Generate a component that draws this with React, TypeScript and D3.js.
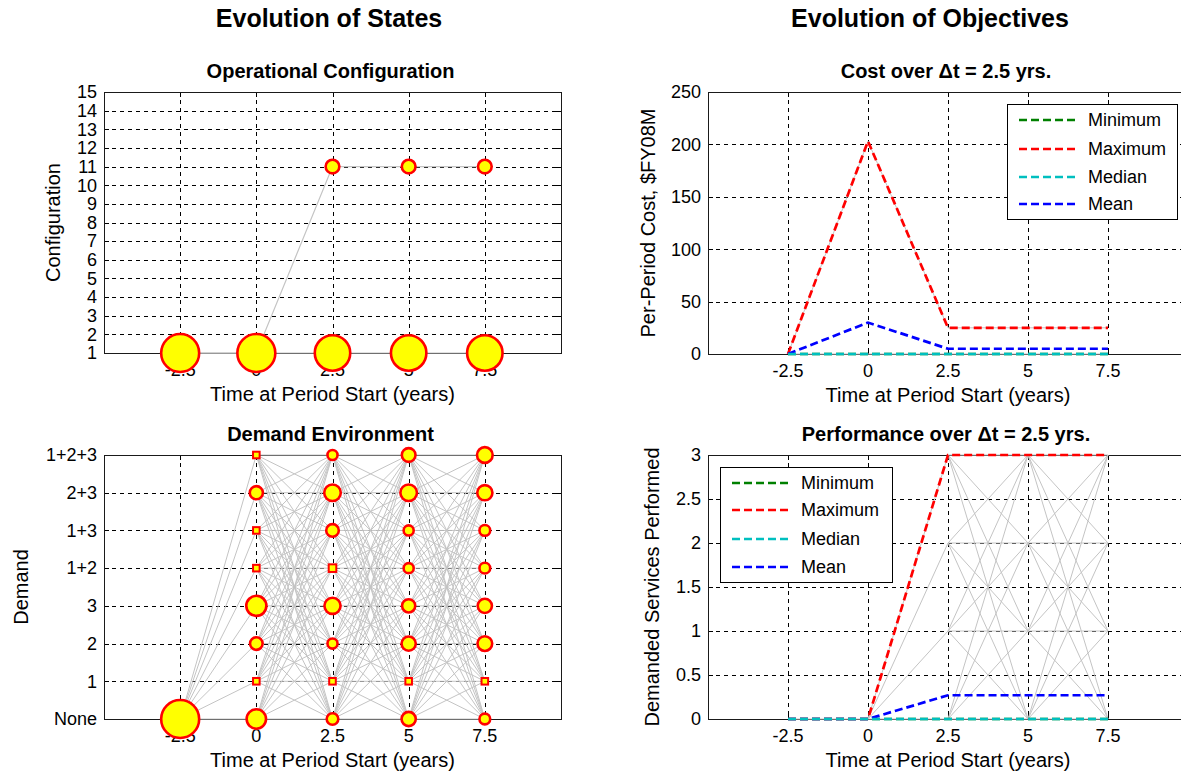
import React from "react";
import * as d3 from "d3";

const W = 1181;
const H = 774;
const FONT = "'Liberation Sans', Arial, Helvetica, sans-serif";

// ---------- data ----------
const times = [-2.5, 0, 2.5, 5, 7.5];
const xTickValues = [-2.5, 0, 2.5, 5, 7.5];
const xTickLabels = ["-2.5", "0", "2.5", "5", "7.5"];

const configTicks = [1, 2, 3, 4, 5, 6, 7, 8, 9, 10, 11, 12, 13, 14, 15];
const configStates = [1, 11];
// probability of each configuration at each time
const configProb = [
  [1, 1, 0.87, 0.87, 0.87],
  [0, 0, 0.13, 0.13, 0.13],
];
const configPaths = [
  [1, 1, 1, 1, 1],
  [1, 1, 11, 11, 11],
];

const demandLabels = ["None", "1", "2", "3", "1+2", "1+3", "2+3", "1+2+3"];
// probability of each demand state (None..1+2+3) at each time
const demandProb = [
  [1, 0, 0, 0, 0, 0, 0, 0],
  [0.26, 0.03, 0.11, 0.28, 0.03, 0.03, 0.12, 0.03],
  [0.093, 0.03, 0.07, 0.18, 0.04, 0.11, 0.19, 0.07],
  [0.14, 0.03, 0.14, 0.12, 0.07, 0.07, 0.19, 0.13],
  [0.08, 0.03, 0.15, 0.14, 0.08, 0.08, 0.16, 0.17],
];

const seriesNames = ["Minimum", "Maximum", "Median", "Mean"];
const costTicks = [0, 50, 100, 150, 200, 250];
const costMin = [0, 0, 0, 0, 0];
const costMax = [0, 203, 25, 25, 25];
const costMedian = [0, 0, 0, 0, 0];
const costMean = [0, 30, 5, 5, 5];
const costPaths = [
  [0, 203, 25, 25, 25],
  [0, 0, 0, 0, 0],
];

const perfTicks = [0, 0.5, 1, 1.5, 2, 2.5, 3];
const perfTickLabels = ["0", "0.5", "1", "1.5", "2", "2.5", "3"];
const perfMin = [0, 0, 0, 0, 0];
const perfMax = [0, 0, 3, 3, 3];
const perfMedian = [0, 0, 0, 0, 0];
const perfMean = [0, 0, 0.27, 0.27, 0.27];
const perfLevels = [[0], [0], [0, 1, 2, 3], [0, 1, 2, 3], [0, 1, 2, 3]];

// ---------- styles ----------
const seriesColors = ["#008000", "#ff0000", "#00bfbf", "#0000ff"];
const GRAY = "#c4c4c4";
const rScale = d3.scaleSqrt().domain([0, 1]).range([0, 19]);

type Sc = d3.ScaleLinear<number, number>;

function Axes(props: {
  l: number; r: number; t: number; b: number;
  yDomain: [number, number];
  yTicks: number[];
  yTickLabels: string[];
  title: string;
  yLabel: string;
  yLabelX: number;
  children: (x: Sc, y: Sc) => React.ReactNode;
}) {
  const { l, r, t, b, yDomain, yTicks, yTickLabels, title, yLabel, yLabelX } = props;
  const x = d3.scaleLinear().domain([-5, 10]).range([l, r]);
  const y = d3.scaleLinear().domain(yDomain).range([b, t]);
  const px = (v: number) => Math.round(v) + 0.5;
  const dash = "4,4";
  const innerY = yTicks.filter((v) => v > yDomain[0] && v < yDomain[1]);
  const tl = 5;
  return (
    <g>
      <rect x={l} y={t} width={r - l} height={b - t} fill="#fff" />
      {/* grid */}
      <g stroke="#000" strokeWidth={1} strokeDasharray={dash} shapeRendering="crispEdges">
        {xTickValues.map((v, i) => (
          <line key={"gx" + i} x1={px(x(v))} x2={px(x(v))} y1={t} y2={b} />
        ))}
        {innerY.map((v, i) => (
          <line key={"gy" + i} x1={l} x2={r} y1={px(y(v))} y2={px(y(v))} />
        ))}
      </g>
      {/* tick marks */}
      <g stroke="#000" strokeWidth={1} shapeRendering="crispEdges">
        {xTickValues.map((v, i) => (
          <g key={"tx" + i}>
            <line x1={px(x(v))} x2={px(x(v))} y1={b} y2={b - tl} />
            <line x1={px(x(v))} x2={px(x(v))} y1={t} y2={t + tl} />
          </g>
        ))}
        {yTicks.map((v, i) => (
          <g key={"ty" + i}>
            <line x1={l} x2={l + tl} y1={px(y(v))} y2={px(y(v))} />
            <line x1={r} x2={r - tl} y1={px(y(v))} y2={px(y(v))} />
          </g>
        ))}
      </g>
      {/* tick labels */}
      <g fontFamily={FONT} fontSize={18} fill="#000">
        {xTickValues.map((v, i) => (
          <text key={"lx" + i} x={x(v)} y={b + 23} textAnchor="middle">
            {xTickLabels[i]}
          </text>
        ))}
        {yTicks.map((v, i) => (
          <text key={"ly" + i} x={l - 7} y={y(v)} dy="0.35em" textAnchor="end">
            {yTickLabels[i]}
          </text>
        ))}
      </g>
      {/* box */}
      <rect x={px(l)} y={px(t)} width={Math.round(r - l)} height={Math.round(b - t)}
        fill="none" stroke="#1a1a1a" strokeWidth={1} shapeRendering="crispEdges" />
      {/* titles */}
      <text x={(l + r) / 2 - 2} y={t - 14} textAnchor="middle" fontFamily={FONT}
        fontWeight="bold" fontSize={20}>{title}</text>
      <text x={(l + r) / 2} y={b + 48} textAnchor="middle" fontFamily={FONT}
        fontSize={20}>Time at Period Start (years)</text>
      <text transform={`translate(${yLabelX},${(t + b) / 2}) rotate(-90)`}
        textAnchor="middle" fontFamily={FONT} fontSize={20}>{yLabel}</text>
      {props.children(x, y)}
    </g>
  );
}

function Marker({ cx, cy, p }: { cx: number; cy: number; p: number }) {
  const r = rScale(p);
  if (r < 4.2) {
    return <rect x={cx - r} y={cy - r} width={2 * r} height={2 * r}
      fill="#ffff00" stroke="#ff0000" strokeWidth={2} />;
  }
  return <circle cx={cx} cy={cy} r={r} fill="#ffff00" stroke="#ff0000" strokeWidth={2.6} />;
}

function Legend({ x0, y0, w, h, rowY }: { x0: number; y0: number; w: number; h: number; rowY: number[] }) {
  return (
    <g>
      <rect x={x0 + 0.5} y={y0 + 0.5} width={w} height={h} fill="#fff" stroke="#000"
        strokeWidth={1} shapeRendering="crispEdges" />
      {seriesNames.map((n, i) => (
        <g key={n}>
          <line x1={x0 + 12} x2={x0 + 70} y1={y0 + rowY[i]} y2={y0 + rowY[i]}
            stroke={seriesColors[i]} strokeWidth={2.5} strokeDasharray="8,4" />
          <text x={x0 + 81} y={y0 + rowY[i]} dy="0.36em" fontFamily={FONT} fontSize={18}>{n}</text>
        </g>
      ))}
    </g>
  );
}

function SeriesLines({ x, y, data }: { x: Sc; y: Sc; data: number[][] }) {
  const line = d3.line<number>().x((_, i) => x(times[i])).y((d) => y(d));
  const order = [0, 1, 3, 2];
  return (
    <g>
      {order.map((k) => (
        <path key={k} d={line(data[k]) || ""} fill="none" stroke={seriesColors[k]}
          strokeWidth={2.7} strokeDasharray="8,4" />
      ))}
    </g>
  );
}

export default function App() {
  const grayLine = d3.line<number>();
  return (
    <svg width={W} height={H} style={{ position: "absolute", left: 0, top: 0, background: "#fff" }}>
      <rect x={0} y={0} width={W} height={H} fill="#fff" />
      <text x={329} y={27} textAnchor="middle" fontFamily={FONT} fontWeight="bold" fontSize={25}>
        Evolution of States
      </text>
      <text x={930} y={27} textAnchor="middle" fontFamily={FONT} fontWeight="bold" fontSize={25}>
        Evolution of Objectives
      </text>

      {/* Operational Configuration */}
      <Axes l={104} r={561} t={92} b={353} yDomain={[1, 15]} yTicks={configTicks}
        yTickLabels={configTicks.map(String)} title="Operational Configuration"
        yLabel="Configuration" yLabelX={60}>
        {(x, y) => (
          <g>
            {configPaths.map((path, k) => (
              <path key={k} d={d3.line<number>().x((_, i) => x(times[i])).y((d) => y(d))(path) || ""}
                fill="none" stroke={GRAY} strokeWidth={1.2} />
            ))}
            {configStates.map((s, si) =>
              times.map((tv, ti) =>
                configProb[si][ti] > 0 ? (
                  <Marker key={si + "-" + ti} cx={x(tv)} cy={y(s)} p={configProb[si][ti]} />
                ) : null
              )
            )}
          </g>
        )}
      </Axes>

      {/* Demand Environment */}
      <Axes l={104} r={561} t={455} b={719} yDomain={[0, 7]} yTicks={[0, 1, 2, 3, 4, 5, 6, 7]}
        yTickLabels={demandLabels} title="Demand Environment" yLabel="Demand" yLabelX={28}>
        {(x, y) => {
          const segs: [number, number, number, number][] = [];
          for (let i = 0; i < times.length - 1; i++) {
            demandProb[i].forEach((pa, a) => {
              if (pa <= 0) return;
              demandProb[i + 1].forEach((pb, b) => {
                if (pb <= 0) return;
                segs.push([times[i], a, times[i + 1], b]);
              });
            });
          }
          return (
            <g>
              <g stroke={GRAY} strokeWidth={1} fill="none">
                {segs.map((s, k) => (
                  <path key={k} d={grayLine([[x(s[0]), y(s[1])], [x(s[2]), y(s[3])]]) || ""} />
                ))}
              </g>
              {demandProb.map((col, ti) =>
                col.map((p, si) =>
                  p > 0 ? <Marker key={ti + "-" + si} cx={x(times[ti])} cy={y(si)} p={p} /> : null
                )
              )}
            </g>
          );
        }}
      </Axes>

      {/* Cost */}
      <Axes l={708} r={1188} t={92} b={354} yDomain={[0, 250]} yTicks={costTicks}
        yTickLabels={costTicks.map(String)} title="Cost over Δt = 2.5 yrs."
        yLabel="Per-Period Cost, $FY08M" yLabelX={655}>
        {(x, y) => (
          <g>
            {costPaths.map((path, k) => (
              <path key={k} d={d3.line<number>().x((_, i) => x(times[i])).y((d) => y(d))(path) || ""}
                fill="none" stroke={GRAY} strokeWidth={1} />
            ))}
            <SeriesLines x={x} y={y} data={[costMin, costMax, costMedian, costMean]} />
            <Legend x0={1007} y0={104} w={170} h={115} rowY={[16, 45, 73, 100]} />
          </g>
        )}
      </Axes>

      {/* Performance */}
      <Axes l={708} r={1188} t={455} b={719} yDomain={[0, 3]} yTicks={perfTicks}
        yTickLabels={perfTickLabels} title="Performance over Δt = 2.5 yrs."
        yLabel="Demanded Services Performed" yLabelX={659}>
        {(x, y) => {
          const segs: [number, number, number, number][] = [];
          for (let i = 0; i < times.length - 1; i++) {
            perfLevels[i].forEach((a) =>
              perfLevels[i + 1].forEach((b) => segs.push([times[i], a, times[i + 1], b]))
            );
          }
          return (
            <g>
              <g stroke={GRAY} strokeWidth={1} fill="none">
                {segs.map((s, k) => (
                  <path key={k} d={grayLine([[x(s[0]), y(s[1])], [x(s[2]), y(s[3])]]) || ""} />
                ))}
              </g>
              <SeriesLines x={x} y={y} data={[perfMin, perfMax, perfMedian, perfMean]} />
              <Legend x0={720} y0={467} w={172} h={115} rowY={[16, 43, 72, 100]} />
            </g>
          );
        }}
      </Axes>
    </svg>
  );
}
